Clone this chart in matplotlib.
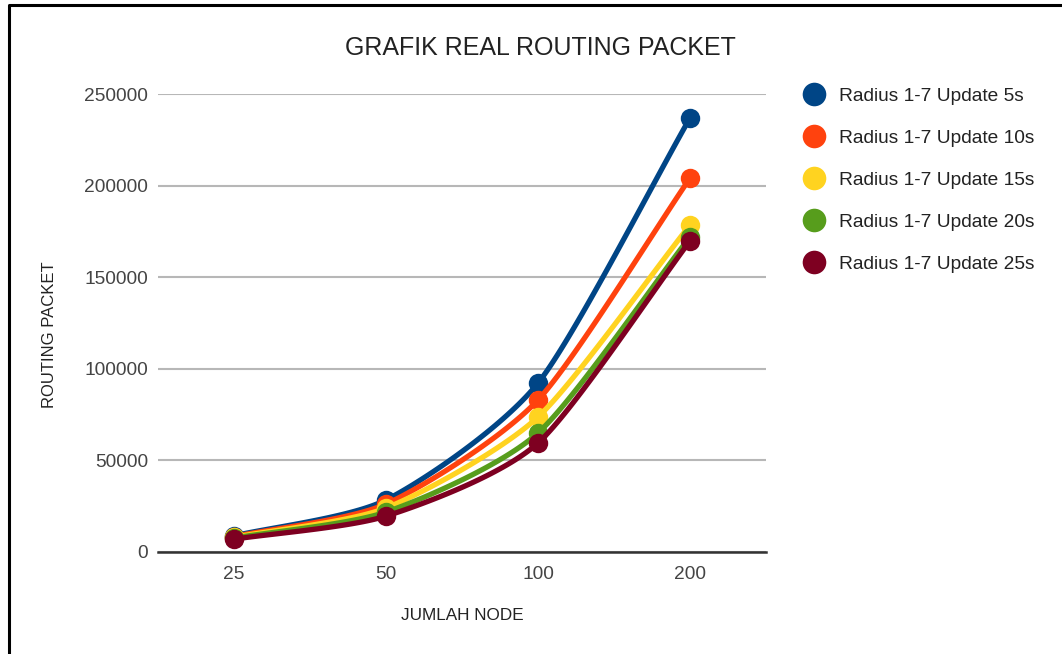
import numpy as np
import matplotlib.pyplot as plt
from matplotlib.lines import Line2D

plt.rcParams['font.family'] = ['Liberation Sans', 'DejaVu Sans']

nodes = ['25', '50', '100', '200']
series_names = ['Radius 1-7 Update 5s', 'Radius 1-7 Update 10s', 'Radius 1-7 Update 15s',
                'Radius 1-7 Update 20s', 'Radius 1-7 Update 25s']
update_5s = [8800, 28400, 92200, 236900]
update_10s = [8400, 26200, 83000, 204100]
update_15s = [8000, 24000, 73700, 178500]
update_20s = [7600, 21800, 65000, 172000]
update_25s = [7000, 19600, 59500, 169800]
colors = ['#004586', '#ff420e', '#ffd320', '#579d1c', '#7e0021']


def smooth(xs, ys, n=40, tension=0.5):
    # catmull-rom through the points, just for drawing the curve
    xs = np.asarray(xs, float)
    ys = np.asarray(ys, float)
    px = np.concatenate(([2 * xs[0] - xs[1]], xs, [2 * xs[-1] - xs[-2]]))
    py = np.concatenate(([2 * ys[0] - ys[1]], ys, [2 * ys[-1] - ys[-2]]))
    out_x, out_y = [], []
    t = np.linspace(0, 1, n)
    for i in range(1, len(px) - 2):
        m1x = tension * (px[i + 1] - px[i - 1])
        m2x = tension * (px[i + 2] - px[i])
        m1y = tension * (py[i + 1] - py[i - 1])
        m2y = tension * (py[i + 2] - py[i])
        h00 = 2 * t**3 - 3 * t**2 + 1
        h10 = t**3 - 2 * t**2 + t
        h01 = -2 * t**3 + 3 * t**2
        h11 = t**3 - t**2
        out_x.append(h00 * px[i] + h10 * m1x + h01 * px[i + 1] + h11 * m2x)
        out_y.append(h00 * py[i] + h10 * m1y + h01 * py[i + 1] + h11 * m2y)
    return np.concatenate(out_x), np.concatenate(out_y)


fig = plt.figure(figsize=(10.62, 6.54), dpi=100)
ax = fig.add_axes([158 / 1062, 1 - 552 / 654, 608 / 1062, 458 / 654])

xpos = np.arange(len(nodes))
all_series = [update_5s, update_10s, update_15s, update_20s, update_25s]
for k, vals in enumerate(all_series):
    sx, sy = smooth(xpos, vals, tension=0.35)
    ax.plot(sx, sy, color=colors[k], lw=3.8, solid_capstyle='round', zorder=3 + k)
    ax.plot(xpos, vals, 'o', color=colors[k], ms=14, mec='none', zorder=3 + k)

ax.set_xlim(-0.5, 3.5)
ax.set_ylim(0, 250000)
ax.set_xticks(xpos)
ax.set_xticklabels(nodes)
ax.set_yticks(np.arange(0, 250001, 50000))
ax.yaxis.grid(True, color='#b7b7b7', lw=1.5)
ax.set_axisbelow(True)
for s in ['left', 'right', 'top']:
    ax.spines[s].set_visible(False)
ax.spines['bottom'].set_color('#333333')
ax.spines['bottom'].set_linewidth(1.8)
ax.spines['bottom'].set_zorder(2)
ax.tick_params(length=0, labelsize=13.8, labelcolor='#444444', pad=7)
ax.tick_params(axis='x', pad=10)

ax.set_xlabel('JUMLAH NODE', fontsize=12.3, color='#222222')
ax.set_ylabel('ROUTING PACKET', fontsize=12, color='#222222')
ax.xaxis.set_label_coords((462 - 158) / 608, (552 - 616) / 458)
ax.yaxis.set_label_coords((50 - 158) / 608, (552 - 335) / 458)
ax.xaxis.label.set_va('center')
ax.yaxis.label.set_va('center')
fig.text(540 / 1062, 1 - 48 / 654, 'GRAFIK REAL ROUTING PACKET', fontsize=18,
         color='#222222', ha='center', va='center')

handles = [Line2D([], [], ls='none', marker='o', ms=17, color=c, mec='none') for c in colors]
fig.legend(handles, series_names, loc='upper left', bbox_to_anchor=(796 / 1062, 1 - 80 / 654),
           frameon=False, fontsize=13.8, labelcolor='#222222', handletextpad=0.75,
           labelspacing=1.28, handlelength=1.1, borderaxespad=0)

# frame on the top and left edges
fig.add_artist(Line2D([9 / 1062, 9 / 1062, 1.0], [0.0, 1 - 5 / 654, 1 - 5 / 654],
                      transform=fig.transFigure, color='black', lw=2.2))

fig.savefig('out.png', dpi=100)
